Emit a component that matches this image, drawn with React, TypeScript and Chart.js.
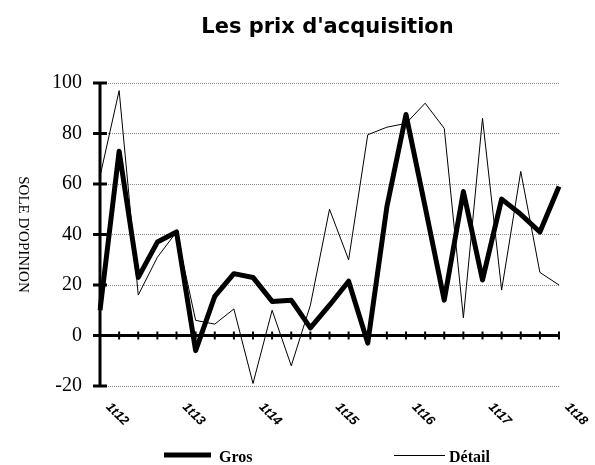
import { useEffect, useRef } from 'react';
import { Chart, registerables } from 'chart.js';

Chart.register(...registerables);

const chartTitle = "Les prix d'acquisition";
const yAxisTitle = "SOLE D'OPINION";

const categories = [
  '1t12', '2t12', '3t12', '4t12',
  '1t13', '2t13', '3t13', '4t13',
  '1t14', '2t14', '3t14', '4t14',
  '1t15', '2t15', '3t15', '4t15',
  '1t16', '2t16', '3t16', '4t16',
  '1t17', '2t17', '3t17', '4t17',
  '1t18',
];

const tickLabels = ['1t12', '1t13', '1t14', '1t15', '1t16', '1t17', '1t18'];

const grosLabel = 'Gros';
const grosValues = [10, 73, 23, 37, 41, -6, 15.5, 24.5, 23, 13.5, 14, 3, 12, 21.5, -3, 51, 87.5, 51, 14, 57, 22, 54, 48, 41, 59];

const detailLabel = 'Détail';
const detailValues = [63, 97, 16, 31, 41, 6, 4.5, 10.5, -19, 10, -12, 12, 50, 30, 79.5, 82.5, 84, 92, 82, 7, 86, 18, 65, 25, 20];

const yMin = -20;
const yMax = 100;
const yStep = 20;

const decorPlugin = {
  id: 'decor',
  afterDraw(chart: any) {
    const ctx = chart.ctx as CanvasRenderingContext2D;
    const area = chart.chartArea;
    const xs = chart.scales.x;
    const ys = chart.scales.y;
    ctx.save();
    ctx.strokeStyle = '#000';
    ctx.fillStyle = '#000';

    // Y axis line
    ctx.lineWidth = 3;
    ctx.lineCap = 'butt';
    ctx.beginPath();
    ctx.moveTo(area.left, area.top - 1);
    ctx.lineTo(area.left, area.bottom + 1);
    ctx.stroke();
    // Y tick marks crossing the axis
    for (const t of ys.ticks) {
      const py = ys.getPixelForValue(t.value);
      ctx.beginPath();
      ctx.moveTo(area.left - 7, py);
      ctx.lineTo(area.left + 7, py);
      ctx.stroke();
    }

    // X axis at zero
    const y0 = ys.getPixelForValue(0);
    ctx.lineWidth = 3;
    ctx.beginPath();
    ctx.moveTo(area.left, y0);
    ctx.lineTo(area.right + 1, y0);
    ctx.stroke();
    ctx.lineWidth = 2;
    for (let i = 0; i < categories.length; i++) {
      const px = xs.getPixelForValue(i);
      ctx.beginPath();
      ctx.moveTo(px, y0 - 4);
      ctx.lineTo(px, y0 + 4);
      ctx.stroke();
    }

    // X labels (rotated clockwise)
    ctx.font = 'italic bold 13px "Liberation Sans", Arial, sans-serif';
    ctx.textAlign = 'left';
    ctx.textBaseline = 'middle';
    for (let i = 0; i < categories.length; i++) {
      if (!tickLabels.includes(categories[i])) continue;
      const px = xs.getPixelForValue(i);
      ctx.save();
      ctx.translate(px + 8, area.bottom + 19);
      ctx.rotate(Math.PI / 4);
      ctx.fillText(categories[i], 0, 0);
      ctx.restore();
    }

    // Y axis title (reads top to bottom)
    ctx.save();
    ctx.font = '15px "Liberation Serif", "Times New Roman", serif';
    ctx.textAlign = 'center';
    ctx.textBaseline = 'middle';
    ctx.translate(23, (area.top + area.bottom) / 2);
    ctx.rotate(Math.PI / 2);
    ctx.fillText(yAxisTitle, 0, 0);
    ctx.restore();

    // Chart title
    ctx.font = 'bold 21px "DejaVu Sans", Verdana, sans-serif';
    ctx.textAlign = 'center';
    ctx.textBaseline = 'alphabetic';
    ctx.fillText(chartTitle, (area.left + area.right) / 2 - 2, 33);

    // Legend
    const ly = 455;
    ctx.font = 'bold 16px "Liberation Serif", "Times New Roman", serif';
    ctx.textBaseline = 'alphabetic';
    ctx.textAlign = 'left';
    ctx.lineWidth = 5;
    ctx.beginPath();
    ctx.moveTo(164, ly);
    ctx.lineTo(211, ly);
    ctx.stroke();
    ctx.fillText(grosLabel, 219, 462);
    ctx.lineWidth = 1;
    ctx.beginPath();
    ctx.moveTo(394, ly + 0.5);
    ctx.lineTo(445, ly + 0.5);
    ctx.stroke();
    ctx.fillText(detailLabel, 449, 462);

    ctx.restore();
  },
};

export default function App() {
  const canvasRef = useRef<HTMLCanvasElement | null>(null);

  useEffect(() => {
    const canvas = canvasRef.current;
    if (!canvas) return;
    const chart = new Chart(canvas, {
      type: 'line',
      data: {
        labels: categories,
        datasets: [
          {
            label: detailLabel,
            data: detailValues,
            borderColor: '#000',
            borderWidth: 1,
            pointRadius: 0,
            tension: 0,
            fill: false,
          },
          {
            label: grosLabel,
            data: grosValues,
            borderColor: '#000',
            borderWidth: 5,
            borderJoinStyle: 'round',
            pointRadius: 0,
            tension: 0,
            fill: false,
          },
        ],
      },
      options: {
        responsive: false,
        animation: false,
        devicePixelRatio: 1,
        layout: { padding: { left: 34, right: 36, top: 83, bottom: 79 } },
        plugins: {
          legend: { display: false },
          title: { display: false },
          tooltip: { enabled: false },
        },
        scales: {
          x: {
            type: 'category',
            offset: false,
            ticks: { display: false },
            grid: { display: false, drawTicks: false },
            border: { display: false },
          },
          y: {
            min: yMin,
            max: yMax,
            ticks: {
              stepSize: yStep,
              color: '#000',
              padding: 18,
              font: { family: '"Liberation Serif", "Times New Roman", serif', size: 20 },
            },
            grid: { color: '#8a8a8a', lineWidth: 1, drawTicks: false },
            border: { display: false, dash: [1, 1] },
          },
        },
      },
      plugins: [decorPlugin],
    });
    return () => chart.destroy();
  }, []);

  return (
    <div style={{ position: 'fixed', left: 0, top: 0, width: 595, height: 465, background: '#fff' }}>
      <canvas ref={canvasRef} width={595} height={465} style={{ display: 'block' }} />
    </div>
  );
}
